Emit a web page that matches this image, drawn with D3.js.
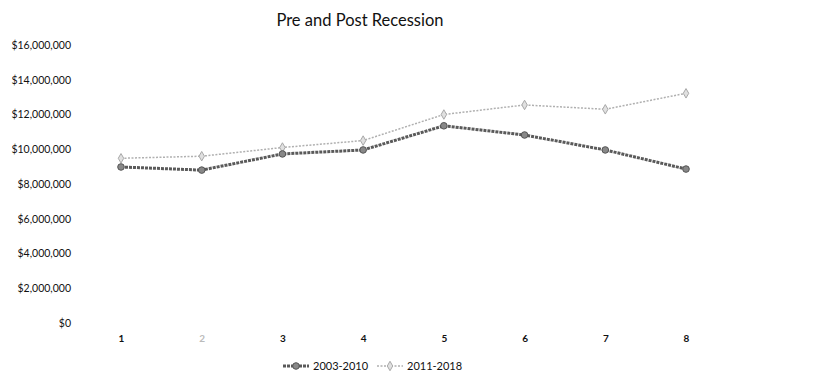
<!DOCTYPE html>
<html>
<head>
<meta charset="utf-8">
<script src="https://cdn.jsdelivr.net/npm/d3@7/dist/d3.min.js"></script>
<style>
  body { margin: 0; background: #fff; }
  svg { display: block; font-family: Lato, "Open Sans", sans-serif; }
</style>
</head>
<body>
<svg id="chart" width="835" height="375"></svg>
<script>
// Period index (year within each 8-year span)
const periods = [1, 2, 3, 4, 5, 6, 7, 8];
// Totals per period, in dollars
const preRecession = [8980000, 8800000, 9730000, 9960000, 11350000, 10820000, 9960000, 8860000];
const postRecession = [9480000, 9600000, 10100000, 10500000, 12000000, 12550000, 12300000, 13220000];
const seriesNames = ["2003-2010", "2011-2018"];
const yTicks = [0, 2000000, 4000000, 6000000, 8000000, 10000000, 12000000, 14000000, 16000000];
const chartTitle = "Pre and Post Recession";

const svg = d3.select("#chart");

const x = d3.scalePoint().domain(periods).range([121, 686]);
const y = d3.scaleLinear().domain([0, 16000000]).range([323, 45]);

const fmt = d => "$" + d3.format(",")(d);

// Title
svg.append("text")
  .attr("x", 360).attr("y", 26)
  .attr("text-anchor", "middle")
  .attr("font-size", 16.5)
  .attr("fill", "#111")
  .text(chartTitle);

// Y axis labels (no axis line or gridlines)
const yAxis = d3.axisLeft(y).tickValues(yTicks).tickFormat(fmt).tickSize(0).tickPadding(0);
const gy = svg.append("g").attr("transform", "translate(71,0)").call(yAxis);
gy.select(".domain").remove();
gy.selectAll("text").attr("font-size", 10.5).attr("fill", "#111").attr("font-family", "Lato, sans-serif");

// X axis labels
const xAxis = d3.axisBottom(x).tickSize(0).tickPadding(0);
const gx = svg.append("g").attr("transform", "translate(0,335)").call(xAxis);
gx.select(".domain").remove();
gx.selectAll("text").attr("font-size", 10).attr("font-weight", "bold").attr("fill", "#111")
  .attr("font-family", "Lato, sans-serif");
gx.selectAll("text").filter(d => d === 2).attr("fill", "#bbb");

const line = d3.line().x((d, i) => x(periods[i])).y(d => y(d));

const styles = [
  { stroke: "#5a5a5a", width: 3, dash: "3,1", marker: "circle", fill: "#888", r: 3.3 },
  { stroke: "#b0b0b0", width: 1.5, dash: "2,1.5", marker: "diamond", fill: "#e0e0e0", r: 3 }
];

function drawMarker(g, style, cx, cy) {
  if (style.marker === "circle") {
    g.append("circle").attr("cx", cx).attr("cy", cy).attr("r", style.r)
      .attr("fill", style.fill).attr("stroke", "#555").attr("stroke-width", 1);
  } else {
    g.append("path")
      .attr("d", d3.symbol().type(d3.symbolDiamond).size(26)())
      .attr("transform", `translate(${cx},${cy})`)
      .attr("fill", style.fill).attr("stroke", "#a8a8a8").attr("stroke-width", 1);
  }
}

[postRecession, preRecession].forEach((vals, k) => {
  const style = styles[k === 0 ? 1 : 0];
  const g = svg.append("g");
  g.append("path").datum(vals)
    .attr("d", line)
    .attr("fill", "none")
    .attr("stroke", style.stroke)
    .attr("stroke-width", style.width)
    .attr("stroke-dasharray", style.dash)
    .attr("stroke-linejoin", "round");
  vals.forEach((v, i) => drawMarker(g, style, x(periods[i]), y(v)));
});

// Legend
const legendX = [283, 377];
seriesNames.forEach((name, i) => {
  const st = styles[i];
  const g = svg.append("g");
  const lx = legendX[i], ly = 366;
  g.append("line").attr("x1", lx).attr("x2", lx + 26).attr("y1", ly).attr("y2", ly)
    .attr("stroke", st.stroke).attr("stroke-width", st.width).attr("stroke-dasharray", st.dash);
  drawMarker(g, st, lx + 13, ly);
  g.append("text").attr("x", lx + 30).attr("y", ly + 4)
    .attr("font-size", 11).attr("font-family", "Lato, sans-serif").attr("fill", "#111").text(name);
});
</script>
</body>
</html>
